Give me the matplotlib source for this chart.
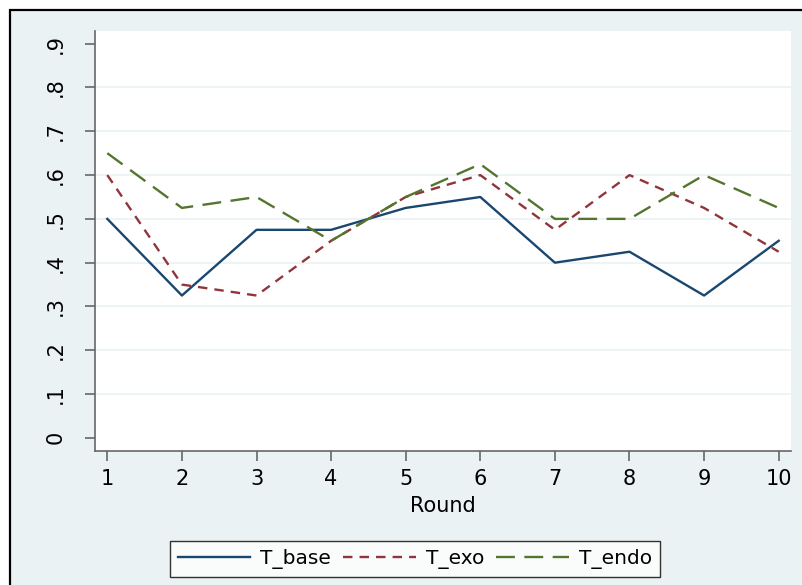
import matplotlib.pyplot as plt
from matplotlib.patches import Rectangle

rounds = [1, 2, 3, 4, 5, 6, 7, 8, 9, 10]
t_base = [0.5, 0.325, 0.475, 0.475, 0.525, 0.55, 0.4, 0.425, 0.325, 0.45]
t_exo = [0.6, 0.35, 0.325, 0.45, 0.55, 0.6, 0.475, 0.6, 0.525, 0.425]
t_endo = [0.65, 0.525, 0.55, 0.45, 0.55, 0.625, 0.5, 0.5, 0.6, 0.525]
yticks = [0, 0.1, 0.2, 0.3, 0.4, 0.5, 0.6, 0.7, 0.8, 0.9]
ylabels = ["0", ".1", ".2", ".3", ".4", ".5", ".6", ".7", ".8", ".9"]

bg = "#EAF2F3"
W, H = 802, 585
fig = plt.figure(figsize=(W / 100, H / 100), dpi=100)
fig.patch.set_facecolor("white")

# outer graph region with black frame (cropped at right/bottom)
fig.patches.append(Rectangle((10 / W, -0.05), 1.1, 1 - 10 / H + 0.05,
                             transform=fig.transFigure, facecolor=bg,
                             edgecolor="black", lw=1.6, zorder=-10))

ax = fig.add_axes([95 / W, 1 - 451 / H, (791 - 95) / W, (451 - 31) / H])
ax.set_facecolor("white")

for y in yticks[1:-1]:
    ax.axhline(y, color=bg, lw=1.2, zorder=1)

ax.plot(rounds, t_base, color="#1A476F", lw=1.7, label="T_base", zorder=3)
ax.plot(rounds, t_exo, color="#90353B", lw=1.7, dashes=(4, 3), label="T_exo", zorder=3)
ax.plot(rounds, t_endo, color="#55752F", lw=1.7, dashes=(8, 4), label="T_endo", zorder=3)

ax.set_xlim(0.835, 10.165)
ax.set_ylim(-0.030, 0.929)
ax.set_xticks(rounds)
ax.set_yticks(yticks)
ax.set_yticklabels(ylabels, rotation=90, va="center")

for s in ["top", "right"]:
    ax.spines[s].set_visible(False)
for s in ["left", "bottom"]:
    ax.spines[s].set_color("#666666")
    ax.spines[s].set_linewidth(1.2)
ax.tick_params(axis="both", length=7, width=1.2, color="#666666",
               labelsize=15, pad=6)
ax.tick_params(axis="y", pad=14)
ax.set_xlabel("Round", fontsize=15, labelpad=5)

leg = fig.legend(loc="center", bbox_to_anchor=(415 / W, 1 - 559 / H), ncol=3,
                 fontsize=14.5, frameon=True, fancybox=False, handlelength=3.6,
                 columnspacing=0.6, handletextpad=0.5, borderpad=0.4)
leg.get_frame().set_edgecolor("black")
leg.get_frame().set_linewidth(1.0)

fig.savefig("out.png", dpi=100, facecolor=fig.get_facecolor())
